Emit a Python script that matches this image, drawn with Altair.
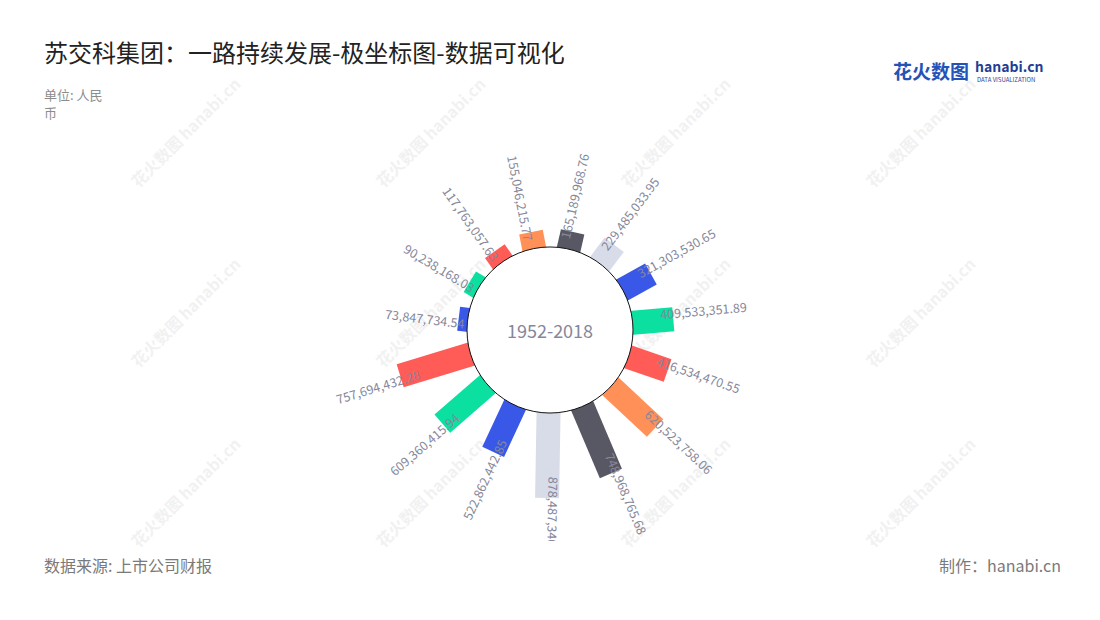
import altair as alt
import pandas as pd

# ---------------- data (clockwise, starting at the bar left of the top) -------------
values = [73847734.54, 90238168.03, 117763057.63, 155046215.77, 165189968.76,
          229485033.95, 321303530.65, 409533351.89, 416534470.55, 620523758.06,
          748968765.68, 878487340.00, 522862442.85, 609360415.94, 757694432.28]
palette = ["#3a58e8", "#0ce0a0", "#ff5c58", "#ff9058", "#585864", "#d8dce8"]
center_label = "1952-2018"
title_text = "苏交科集团：一路持续发展-极坐标图-数据可视化"
unit_lines = ["单位: 人民", "币"]
source_text = "数据来源: 上市公司财报"
maker_text = "制作：hanabi.cn"
logo_cn = "花火数图"
logo_en = "hanabi.cn"
logo_sub = "DATA VISUALIZATION"
watermark = "花火数图 hanabi.cn"

FONT = "Noto Sans CJK SC"
LABEL_COLOR = "#85879a"

# ---------------- layout ----------------
W, H, PAD_B = 1084, 533, 71
K = 0.0945          # pixels per million on the radial scale
CX, CY = 542, 322   # centre of the polar plot in the view
x_dom = [-CX / K, (W - CX) / K]
y_dom = [-(H - CY) / K, CY / K]
xscale = alt.Scale(domain=x_dom, nice=False, zero=False)
yscale = alt.Scale(domain=y_dom, nice=False, zero=False)

df = pd.DataFrame({
    "idx": list(range(len(values))),
    "value": values,
    "color": [palette[i % len(palette)] for i in range(len(values))],
    "label": [f"{v:,.2f}" for v in values],
})

base = (
    alt.Chart(df)
    .transform_calculate(theta="(277 + 24 * datum.idx) % 360")
    .transform_calculate(rad="datum.theta * PI / 180")
    .transform_calculate(vm="datum.value / 1e6")
    .transform_calculate(r_in="850")
    .transform_calculate(r_out="900 + datum.vm")
    .transform_calculate(r_lab="847 + 0.804 * datum.vm")
    .transform_calculate(x0="datum.r_in * sin(datum.rad)")
    .transform_calculate(y0="datum.r_in * cos(datum.rad)")
    .transform_calculate(x1="datum.r_out * sin(datum.rad)")
    .transform_calculate(y1="datum.r_out * cos(datum.rad)")
    .transform_calculate(xl="datum.r_lab * sin(datum.rad)")
    .transform_calculate(yl="datum.r_lab * cos(datum.rad)")
)

bars = base.mark_rule(strokeWidth=24, strokeCap="butt").encode(
    x=alt.X("x0:Q", scale=xscale, axis=None),
    y=alt.Y("y0:Q", scale=yscale, axis=None),
    x2="x1:Q",
    y2="y1:Q",
    color=alt.Color("color:N", scale=None),
)

center_df = pd.DataFrame({"x": [0], "y": [0], "t": [center_label]})
circle = alt.Chart(center_df).mark_point(
    shape="circle", size=166 * 166, filled=True, fill="white",
    stroke="#111111", strokeWidth=1, opacity=1, fillOpacity=1, strokeOpacity=1,
).encode(
    x=alt.X("x:Q", scale=xscale, axis=None),
    y=alt.Y("y:Q", scale=yscale, axis=None),
)
center_text = alt.Chart(center_df).mark_text(
    font=FONT, fontSize=18, color=LABEL_COLOR, baseline="middle", align="center", dy=3,
).encode(
    x=alt.X("x:Q", scale=xscale, axis=None),
    y=alt.Y("y:Q", scale=yscale, axis=None),
    text="t:N",
)

labels_right = (
    base.transform_filter("datum.theta > 0 && datum.theta <= 190")
    .transform_calculate(ang="datum.theta - 90")
    .mark_text(font=FONT, fontSize=12.5, color=LABEL_COLOR, align="left",
               baseline="middle", dy=-5, clip=True)
    .encode(
        x=alt.X("xl:Q", scale=xscale, axis=None),
        y=alt.Y("yl:Q", scale=yscale, axis=None),
        text="label:N",
        angle=alt.Angle("ang:Q", scale=None),
    )
)
labels_left = (
    base.transform_filter("datum.theta > 190")
    .transform_calculate(ang="datum.theta - 270")
    .mark_text(font=FONT, fontSize=12.5, color=LABEL_COLOR, align="right",
               baseline="middle", dy=5, clip=True)
    .encode(
        x=alt.X("xl:Q", scale=xscale, axis=None),
        y=alt.Y("yl:Q", scale=yscale, axis=None),
        text="label:N",
        angle=alt.Angle("ang:Q", scale=None),
    )
)


def pix_text(txt, x, y, **kw):
    return alt.Chart(pd.DataFrame({"t": [txt]})).mark_text(
        font=FONT, baseline="middle", **kw
    ).encode(x=alt.value(x), y=alt.value(y), text="t:N")


# faint watermarks
wm_layers = []
for wx in [127, 372, 617, 862]:
    for wy in [177, 357, 537]:
        wm_layers.append(pix_text(watermark, wx, wy, align="left", fontSize=16,
                                  fontWeight="bold", color="#d4d4d4", opacity=0.3,
                                  angle=315))

title = pix_text(title_text, 36, 47, align="left", fontSize=24, color="#222222")
unit1 = pix_text(unit_lines[0], 36, 88, align="left", fontSize=13, color="#8c8c8c")
unit2 = pix_text(unit_lines[1], 36, 106, align="left", fontSize=13, color="#8c8c8c")
source = pix_text(source_text, 36, 559, align="left", fontSize=16, color="#7a7a7a")
maker = pix_text(maker_text, 1053, 559, align="right", fontSize=16, color="#7a7a7a")
logo1 = pix_text(logo_cn, 885, 65, align="left", fontSize=19, fontWeight="bold", color="#2453b8")
logo2 = pix_text(logo_en, 967, 60, align="left", fontSize=14, fontWeight="bold", color="#1f3f96")
logo3 = pix_text(logo_sub, 969, 72, align="left", fontSize=6, color="#1f3f96")

chart = alt.layer(
    *wm_layers, bars, circle, center_text, labels_right, labels_left,
    title, unit1, unit2, source, maker, logo1, logo2, logo3,
).properties(
    width=W, height=H,
    padding={"left": 0, "right": 0, "top": 0, "bottom": PAD_B},
    autosize="none",
    background="white",
).configure_view(stroke=None)

chart.save("out.html", embed_options={"renderer": "svg", "actions": False})
